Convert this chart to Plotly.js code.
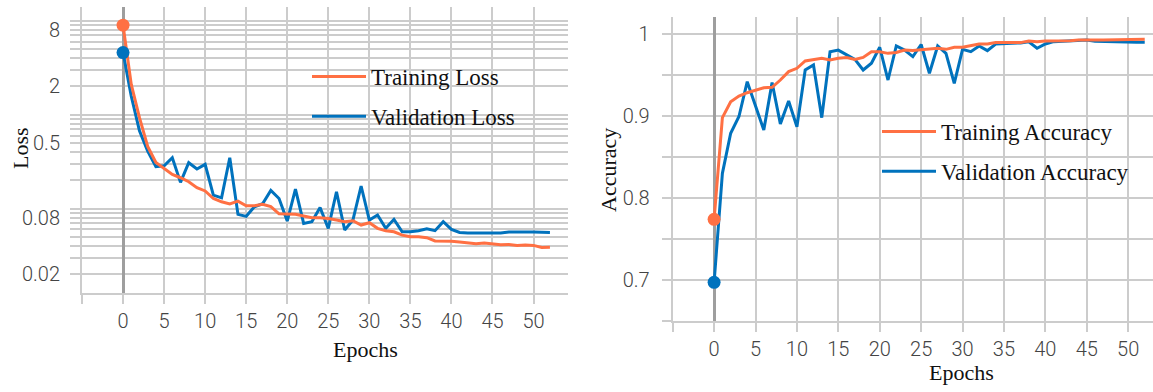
<!DOCTYPE html>
<html>
<head>
<meta charset="utf-8">
<script src="https://cdn.plot.ly/plotly-3.0.1.min.js"></script>
<style>html,body{margin:0;padding:0;background:#fff}#chart{width:1153px;height:392px}</style>
</head>
<body>
<div id="chart"></div>
<script>
// ---- data ----
const epochs = [0,1,2,3,4,5,6,7,8,9,10,11,12,13,14,15,16,17,18,19,20,21,22,23,24,25,26,27,28,29,30,31,32,33,34,35,36,37,38,39,40,41,42,43,44,45,46,47,48,49,50,51,52];

const trainLoss = [9.0,2.1,0.93,0.46,0.31,0.268,0.231,0.213,0.193,0.167,0.154,0.128,0.118,0.112,0.120,0.107,0.107,0.111,0.105,0.088,0.087,0.087,
  0.0832,0.0798,0.0798,0.0785,0.0754,0.0724,0.0741,0.0667,0.0706,0.0615,0.0581,0.0566,0.0521,0.0501,0.0501,0.0489,0.0451,0.0451,0.0447,0.0440,
  0.0433,0.0422,0.0429,0.0418,0.0411,0.0415,0.0405,0.0408,0.0405,0.0385,0.0388];

const valLoss = [4.6,1.58,0.675,0.41,0.279,0.286,0.348,0.190,0.308,0.264,0.296,0.139,0.130,0.348,0.0867,0.0826,0.1046,0.1127,0.156,0.128,0.0736,0.161,
  0.0695,0.0724,0.1028,0.0615,0.151,0.059,0.0754,0.174,0.0754,0.0853,0.0615,0.0767,0.0566,0.0566,0.0581,0.0610,0.0581,0.0724,0.060,0.0557,
  0.0548,0.0548,0.0548,0.0544,0.0548,0.0561,0.0557,0.0561,0.0561,0.0561,0.0557];

const trainAcc = [0.7736,0.8976,0.917,0.924,0.928,0.931,0.934,0.9346,0.9435,0.9537,0.9578,0.9667,0.9687,0.970,0.9679,0.970,0.971,0.9687,0.971,0.978,0.978,0.976,
  0.977,0.980,0.9795,0.9801,0.9814,0.9822,0.9809,0.9834,0.9834,0.985,0.9874,0.9874,0.9891,0.9891,0.9891,0.9891,0.9911,0.9903,0.9911,0.9911,
  0.9915,0.9915,0.9923,0.9927,0.9923,0.9923,0.9923,0.9927,0.9931,0.9931,0.9931];

const valAcc = [0.6968,0.8297,0.8785,0.899,0.9415,0.913,0.8826,0.9403,0.890,0.918,0.8866,0.9557,0.9618,0.8976,0.978,0.980,0.974,0.9687,0.9557,0.9639,0.9834,0.9435,
  0.985,0.980,0.972,0.9868,0.9517,0.985,0.976,0.9395,0.9809,0.978,0.985,0.9793,0.9874,0.9883,0.9883,0.9887,0.990,0.9822,0.9874,0.9903,
  0.9907,0.9911,0.9915,0.9923,0.9907,0.9903,0.9903,0.9903,0.9899,0.9895,0.9895];

const xTickVals = [-5,0,5,10,15,20,25,30,35,40,45,50];
const xTickText = ['','0','5','10','15','20','25','30','35','40','45','50'];

const lossTickVals = [0.02,0.03,0.04,0.05,0.06,0.07,0.08,0.09,0.1,0.2,0.3,0.4,0.5,0.6,0.7,0.8,0.9,1,2,3,4,5,6,7,8,9,10];
const lossTickText = ['0.02','','','','','','0.08','','','','','','0.5','','','','','','2','','','','','','8','',''];

const accTickVals = [0.65,0.7,0.75,0.8,0.85,0.9,0.95,1.0];
const accTickText = ['','0.7','','0.8','','0.9','','1'];

const seriesNames = ['Training Loss','Validation Loss','Training Accuracy','Validation Accuracy'];
const axisTitles = ['Loss','Epochs','Accuracy','Epochs'];

// ---- styling ----
const ORANGE = '#ff7043';
const BLUE = '#0072bd';
const GRID = '#cccccc';
const W = 1153, H = 392;
const px = v => v / W;
const py = v => 1 - v / H;

const tickFont = {family: 'Roboto, "Open Sans", sans-serif', size: 20, color: '#444444', weight: 300};
const serif = {family: '"Liberation Serif", "Times New Roman", serif', size: 22, color: '#111111'};
const legendFont = {family: '"Liberation Serif", "Times New Roman", serif', size: 23, color: '#111111'};

function lineTrace(x, y, name, color, xa, ya, legend, rank) {
  return {x, y, name, type: 'scatter', mode: 'lines', xaxis: xa, yaxis: ya,
    line: {color, width: 3}, legend, legendrank: rank, legendgroup: name, hoverinfo: 'skip'};
}
function startMarker(x, y, color, xa, ya) {
  return {x: [x[0]], y: [y[0]], type: 'scatter', mode: 'markers', xaxis: xa, yaxis: ya,
    marker: {color, size: 13}, showlegend: false, hoverinfo: 'skip'};
}

const data = [
  lineTrace(epochs, valLoss, seriesNames[1], BLUE, 'x', 'y', 'legend', 2),
  lineTrace(epochs, trainLoss, seriesNames[0], ORANGE, 'x', 'y', 'legend', 1),
  startMarker(epochs, valLoss, BLUE, 'x', 'y'),
  startMarker(epochs, trainLoss, ORANGE, 'x', 'y'),
  lineTrace(epochs, valAcc, seriesNames[3], BLUE, 'x2', 'y2', 'legend2', 2),
  lineTrace(epochs, trainAcc, seriesNames[2], ORANGE, 'x2', 'y2', 'legend2', 1),
  startMarker(epochs, valAcc, BLUE, 'x2', 'y2'),
  startMarker(epochs, trainAcc, ORANGE, 'x2', 'y2')
];

const xCommon = {
  tickmode: 'array', tickvals: xTickVals, ticktext: xTickText,
  showgrid: true, gridcolor: GRID, gridwidth: 2,
  zeroline: true, zerolinecolor: '#9e9e9e', zerolinewidth: 3,
  ticks: 'outside', ticklen: 9, tickwidth: 2, tickcolor: GRID,
  showline: true, linecolor: GRID, linewidth: 2,
  tickfont: tickFont, automargin: false, fixedrange: true
};
const yCommon = {
  tickmode: 'array',
  showgrid: true, gridcolor: GRID, gridwidth: 2, zeroline: false,
  ticks: 'outside', ticklen: 10, tickwidth: 2, tickcolor: GRID,
  showline: true, linecolor: GRID, linewidth: 2,
  tickfont: tickFont, automargin: false, fixedrange: true
};

const legendCommon = {
  font: legendFont, bgcolor: 'rgba(0,0,0,0)', borderwidth: 0,
  xanchor: 'left', yanchor: 'top', traceorder: 'grouped', tracegroupgap: 7, itemwidth: 54
};

function ann(text, x, y, angle) {
  return {text, xref: 'paper', yref: 'paper', x: px(x), y: py(y), xanchor: 'center', yanchor: 'middle',
    showarrow: false, textangle: angle || 0, font: serif};
}

const layout = {
  width: W, height: H,
  margin: {l: 0, r: 0, t: 0, b: 0},
  paper_bgcolor: '#ffffff', plot_bgcolor: '#ffffff',
  showlegend: true,
  xaxis: Object.assign({}, xCommon, {domain: [px(82), px(568)], range: [-5, 54.2], anchor: 'y'}),
  yaxis: Object.assign({}, yCommon, {type: 'log', domain: [py(293), py(7)], range: [-1.90, 1.148],
    tickvals: lossTickVals, ticktext: lossTickText, ticklabelstandoff: 6, anchor: 'x'}),
  xaxis2: Object.assign({}, xCommon, {domain: [px(672.7), 1], range: [-5, 53.0], anchor: 'y2'}),
  yaxis2: Object.assign({}, yCommon, {domain: [py(320.7), py(16.7)], range: [0.65, 1.0207],
    tickvals: accTickVals, ticktext: accTickText, ticklen: 9, ticklabelstandoff: 8, anchor: 'x2'}),
  legend: Object.assign({}, legendCommon, {x: px(307), y: py(55)}),
  legend2: Object.assign({}, legendCommon, {x: px(877), y: py(110)}),
  annotations: [
    ann(axisTitles[0], 20, 148, -90),
    ann(axisTitles[1], 365, 349),
    ann(axisTitles[2], 608, 170, -90),
    ann(axisTitles[3], 961, 372.5)
  ]
};

Plotly.newPlot('chart', data, layout, {displayModeBar: false, staticPlot: true});
</script>
</body>
</html>
